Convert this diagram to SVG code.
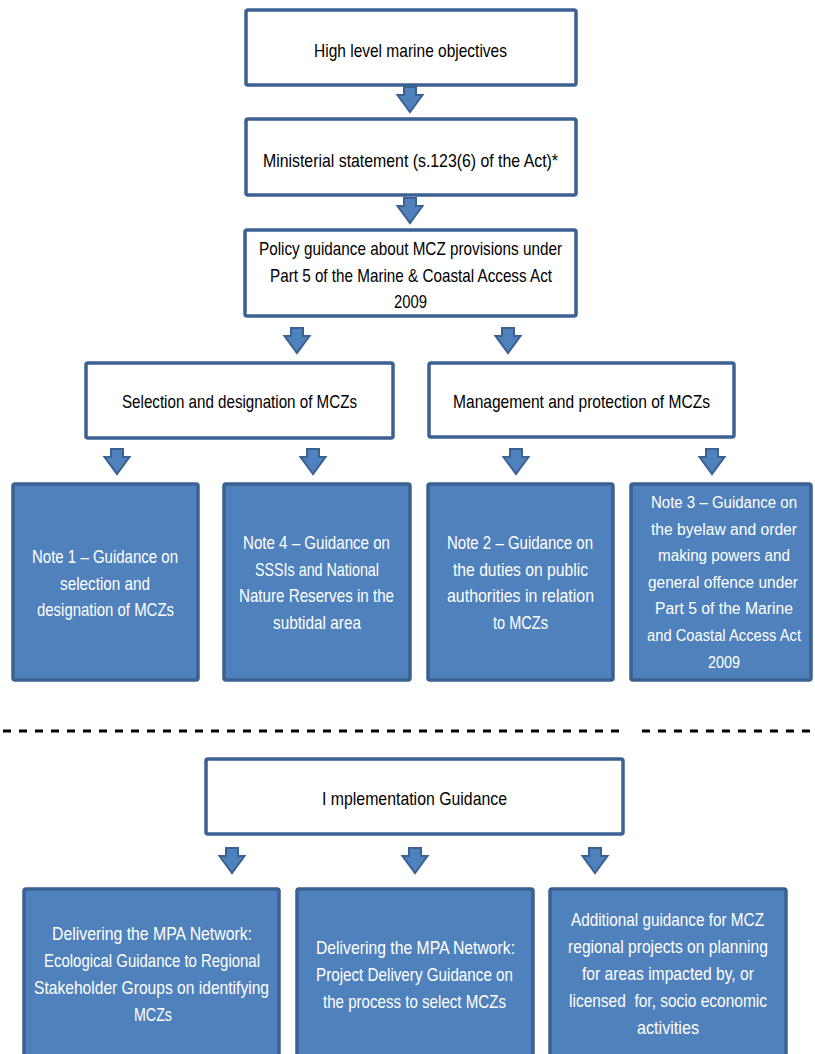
<svg xmlns="http://www.w3.org/2000/svg" width="815" height="1054" viewBox="0 0 815 1054">
<style>
.wbox{fill:#ffffff;stroke:#3B6092;stroke-width:3.5}
.bbox{fill:#4F81BD;stroke:#3B6092;stroke-width:3.5}
.arr{fill:#4F81BD;stroke:#3B6092;stroke-width:2}
.t{font-family:"Liberation Sans",Arial,sans-serif;font-size:19px;text-anchor:middle}
.s{font-size:16px}
.dk{fill:#000000}
.wt{fill:#ffffff}
.dash{stroke:#000000;stroke-width:3;stroke-dasharray:8 8;fill:none}
</style>
<rect width="815" height="1054" fill="#ffffff"/>
<g id="connectors">
<path class="arr" d="M404 87H416V95H422.5L410 112L397.5 95H404Z"/>
<path class="arr" d="M404 198H416V206H422.5L410 223L397.5 206H404Z"/>
<path class="arr" d="M291 328H303V336H309.5L297 353L284.5 336H291Z"/>
<path class="arr" d="M502 328H514V336H520.5L508 353L495.5 336H502Z"/>
<path class="arr" d="M111 449H123V457H129.5L117 474L104.5 457H111Z"/>
<path class="arr" d="M307 449H319V457H325.5L313 474L300.5 457H307Z"/>
<path class="arr" d="M510 449H522V457H528.5L516 474L503.5 457H510Z"/>
<path class="arr" d="M706 449H718V457H724.5L712 474L699.5 457H706Z"/>
<path class="arr" d="M226 848H238V856H244.5L232 873L219.5 856H226Z"/>
<path class="arr" d="M409 848H421V856H427.5L415 873L402.5 856H409Z"/>
<path class="arr" d="M589 848H601V856H607.5L595 873L582.5 856H589Z"/>
</g>
<g id="separator">
<line class="dash" x1="3" y1="731" x2="627" y2="731"/>
<line class="dash" x1="642" y1="731" x2="815" y2="731"/>
</g>
<g id="n-high-level">
<rect class="wbox" x="246" y="10" width="330" height="75" rx="2"/>
<text class="t dk" x="410.5" y="57" textLength="193" lengthAdjust="spacingAndGlyphs">High level marine objectives</text>
</g>
<g id="n-ministerial">
<rect class="wbox" x="246" y="119" width="330" height="76" rx="2"/>
<text class="t dk" x="410.5" y="167" textLength="295" lengthAdjust="spacingAndGlyphs">Ministerial statement (s.123(6) of the Act)*</text>
</g>
<g id="n-policy">
<rect class="wbox" x="245" y="230" width="331" height="86" rx="2"/>
<text class="t dk" x="410.5" y="255" textLength="303" lengthAdjust="spacingAndGlyphs">Policy guidance about MCZ provisions under</text>
<text class="t dk" x="411" y="281.5" textLength="282" lengthAdjust="spacingAndGlyphs">Part 5 of the Marine &amp; Coastal Access Act</text>
<text class="t dk" x="410.5" y="308" textLength="33" lengthAdjust="spacingAndGlyphs">2009</text>
</g>
<g id="n-selection">
<rect class="wbox" x="86" y="363" width="307" height="75" rx="2"/>
<text class="t dk" x="239.5" y="408" textLength="235" lengthAdjust="spacingAndGlyphs">Selection and designation of MCZs</text>
</g>
<g id="n-management">
<rect class="wbox" x="429" y="363" width="305" height="74" rx="2"/>
<text class="t dk" x="581.5" y="408" textLength="257" lengthAdjust="spacingAndGlyphs">Management and protection of MCZs</text>
</g>
<g id="n-note1">
<rect class="bbox" x="13" y="484" width="185" height="196" rx="2"/>
<text class="t wt" x="105" y="563" textLength="146" lengthAdjust="spacingAndGlyphs">Note 1 – Guidance on</text>
<text class="t wt" x="105" y="589.5" textLength="90" lengthAdjust="spacingAndGlyphs">selection and</text>
<text class="t wt" x="105.5" y="616" textLength="137" lengthAdjust="spacingAndGlyphs">designation of MCZs</text>
</g>
<g id="n-note4">
<rect class="bbox" x="224" y="484" width="186" height="196" rx="2"/>
<text class="t wt" x="316.5" y="549" textLength="147" lengthAdjust="spacingAndGlyphs">Note 4 – Guidance on</text>
<text class="t wt" x="317" y="575.5" textLength="124" lengthAdjust="spacingAndGlyphs">SSSIs and National</text>
<text class="t wt" x="316.5" y="602" textLength="155" lengthAdjust="spacingAndGlyphs">Nature Reserves in the</text>
<text class="t wt" x="317" y="628.5" textLength="88" lengthAdjust="spacingAndGlyphs">subtidal area</text>
</g>
<g id="n-note2">
<rect class="bbox" x="428" y="484" width="185" height="196" rx="2"/>
<text class="t wt" x="520" y="549" textLength="146" lengthAdjust="spacingAndGlyphs">Note 2 – Guidance on</text>
<text class="t wt" x="520.5" y="575.5" textLength="135" lengthAdjust="spacingAndGlyphs">the duties on public</text>
<text class="t wt" x="520.5" y="602" textLength="147" lengthAdjust="spacingAndGlyphs">authorities in relation</text>
<text class="t wt" x="520.5" y="628.5" textLength="55" lengthAdjust="spacingAndGlyphs">to MCZs</text>
</g>
<g id="n-note3">
<rect class="bbox" x="631" y="484" width="180" height="196" rx="2"/>
<text class="t s wt" x="724" y="508" textLength="146" lengthAdjust="spacingAndGlyphs">Note 3 – Guidance on</text>
<text class="t s wt" x="724" y="534.6" textLength="146" lengthAdjust="spacingAndGlyphs">the byelaw and order</text>
<text class="t s wt" x="724" y="561.2" textLength="132" lengthAdjust="spacingAndGlyphs">making powers and</text>
<text class="t s wt" x="723" y="587.8" textLength="150" lengthAdjust="spacingAndGlyphs">general offence under</text>
<text class="t s wt" x="724" y="614.4" textLength="138" lengthAdjust="spacingAndGlyphs">Part 5 of the Marine</text>
<text class="t s wt" x="724" y="641" textLength="154" lengthAdjust="spacingAndGlyphs">and Coastal Access Act</text>
<text class="t s wt" x="724" y="667.6" textLength="32" lengthAdjust="spacingAndGlyphs">2009</text>
</g>
<g id="n-implementation">
<rect class="wbox" x="206" y="759" width="417" height="75" rx="2"/>
<text class="t dk" x="414.5" y="805" textLength="185" lengthAdjust="spacingAndGlyphs">I mplementation Guidance</text>
</g>
<g id="n-ecological">
<rect class="bbox" x="24" y="889" width="255" height="190" rx="2"/>
<text class="t wt" x="152" y="940" textLength="200" lengthAdjust="spacingAndGlyphs">Delivering the MPA Network:</text>
<text class="t wt" x="152" y="967" textLength="216" lengthAdjust="spacingAndGlyphs">Ecological Guidance to Regional</text>
<text class="t wt" x="151.5" y="994" textLength="235" lengthAdjust="spacingAndGlyphs">Stakeholder Groups on identifying</text>
<text class="t wt" x="153" y="1021" textLength="38" lengthAdjust="spacingAndGlyphs">MCZs</text>
</g>
<g id="n-project-delivery">
<rect class="bbox" x="297" y="889" width="236" height="190" rx="2"/>
<text class="t wt" x="415.5" y="954" textLength="199" lengthAdjust="spacingAndGlyphs">Delivering the MPA Network:</text>
<text class="t wt" x="414.5" y="981" textLength="197" lengthAdjust="spacingAndGlyphs">Project Delivery Guidance on</text>
<text class="t wt" x="414.5" y="1008" textLength="183" lengthAdjust="spacingAndGlyphs">the process to select MCZs</text>
</g>
<g id="n-additional">
<rect class="bbox" x="550" y="889" width="236" height="190" rx="2"/>
<text class="t wt" x="667.5" y="926" textLength="193" lengthAdjust="spacingAndGlyphs">Additional guidance for MCZ</text>
<text class="t wt" x="668" y="953" textLength="200" lengthAdjust="spacingAndGlyphs">regional projects on planning</text>
<text class="t wt" x="668" y="980" textLength="172" lengthAdjust="spacingAndGlyphs">for areas impacted by, or</text>
<text class="t wt" x="668" y="1007" textLength="198" lengthAdjust="spacingAndGlyphs" style="white-space:pre">licensed  for, socio economic</text>
<text class="t wt" x="668" y="1034" textLength="62" lengthAdjust="spacingAndGlyphs">activities</text>
</g>
</svg>
